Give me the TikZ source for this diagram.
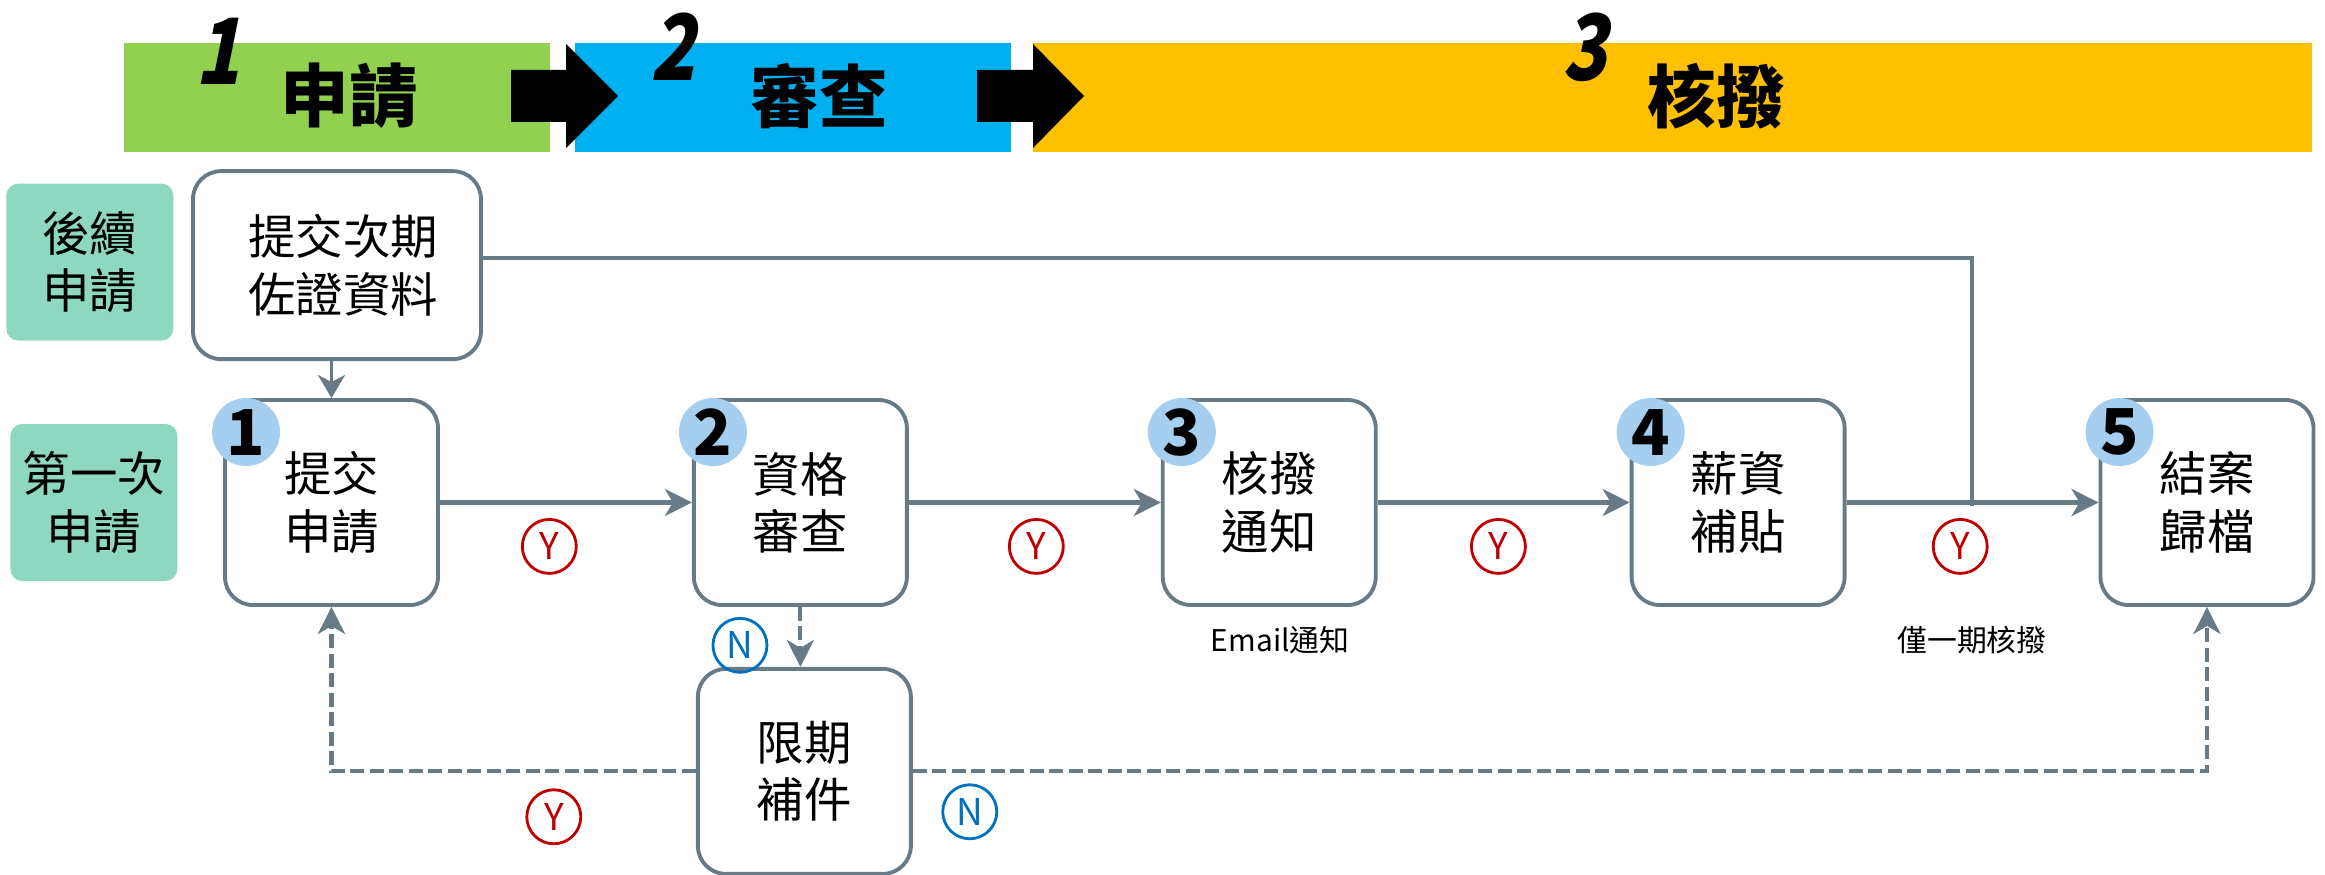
\documentclass[tikz,border=0pt]{standalone}
\usepackage{fontspec}
\setmainfont{Noto Sans CJK TC}
\newfontfamily\numfont[FakeSlant=0.2,FakeStretch=0.8]{Noto Sans CJK TC}
\usetikzlibrary{positioning,arrows.meta}
\definecolor{slate}{HTML}{687A86}
\definecolor{hgreen}{HTML}{92D050}
\definecolor{hblue}{HTML}{00B0F0}
\definecolor{horange}{HTML}{FFC000}
\definecolor{stagecol}{HTML}{8ED8C2}
\definecolor{numcol}{HTML}{A6CEEE}
\definecolor{yred}{HTML}{C00000}
\definecolor{nblue}{HTML}{0070C0}

\begin{document}
\begin{tikzpicture}[
    ->/.style={draw=slate, line width=1.3pt,
               arrows={-Stealth[length=0.27cm, width=0.27cm, inset=0.08cm]}},
    every node/.style={inner sep=1pt},
    proc/.style={draw=slate, line width=1.1pt, rounded corners=0.28cm,
                 fill=white, align=center,
                 minimum width=2.13cm, minimum height=2.05cm,
                 font=\fontsize{13.5}{16.3}\selectfont
    },
    stage/.style={fill=stagecol, rounded corners=0.12cm, align=center,
                  minimum width=1.67cm, minimum height=1.57cm,
                  font=\fontsize{13.5}{16.3}\selectfont
    },
    bar/.style={inner sep=0, minimum height=1.09cm},
    htext/.style={font=\fontsize{19.5}{19.5}\selectfont\bfseries},
    hnum/.style={font=\fontsize{26}{26}\selectfont\numfont\bfseries},
    num/.style={circle, fill=numcol, inner sep=0, minimum size=0.68cm,
                font=\fontsize{18}{18}\selectfont\bfseries},
    yes/.style={circle, solid, draw=yred, text=yred, line width=0.8pt, inner sep=0,
                minimum size=0.54cm, font=\fontsize{10.5}{10.5}\selectfont},
    no/.style={yes, draw=nblue, text=nblue},
    dflow/.style={->, line width=1.2pt, dash pattern=on 0.14cm off 0.055cm},
    link/.style={draw=slate, line width=1pt},
    note/.style={font=\fontsize{8.5}{8.5}\selectfont}
]
    \useasboundingbox (0,0) rectangle (23.25,8.74);

    % stages on top
    \node (apply) [bar, fill=hgreen, minimum width=4.26cm] at (3.37,7.765) {};
    \node (review) [bar, fill=hblue, minimum width=4.36cm] at (7.93,7.765) {};
    \node (grant) [bar, fill=horange, minimum width=12.79cm] at (16.725,7.765) {};
    \fill (5.11,7.52) -- (5.66,7.52) -- (5.66,7.26) -- (6.18,7.78) -- (5.66,8.30) -- (5.66,8.04) -- (5.11,8.04) -- cycle;
    \fill (9.77,7.52) -- (10.33,7.52) -- (10.33,7.26) -- (10.84,7.78) -- (10.33,8.30) -- (10.33,8.04) -- (9.77,8.04) -- cycle;
    \node (k1) [hnum] at (2.18,8.23) {1};
    \node (applyt) [htext] at (3.49,7.78) {申請};
    \node (k2) [hnum] at (6.73,8.27) {2};
    \node (reviewt) [htext] at (8.19,7.78) {審查};
    \node (k3) [hnum] at (15.85,8.27) {3};
    \node (grantt) [htext] at (17.16,7.78) {核撥};

    % boxes
    \node (b1) [proc] at (3.315,3.715) {提交\\申請};
    \node (b2) [proc, right=2.52cm of b1] {資格\\審查};
    \node (b3) [proc, right=2.52cm of b2] {核撥\\通知};
    \node (b4) [proc, right=2.52cm of b3] {薪資\\補貼};
    \node (b5) [proc, right=2.52cm of b4] {結案\\歸檔};
    \node (fix) [proc, below=0.6cm of b2, xshift=0.04cm] {限期\\補件};
    \node (sub) [proc, above=0.37cm of b1, xshift=0.055cm,
                 minimum width=2.88cm, minimum height=1.88cm] {\hspace{0.12cm}提交次期\\\hspace{0.12cm}佐證資料};
    \node (first) [stage, left=0.45cm of b1] {第一次\\申請};
    \node (later) [stage, left=0.17cm of sub, yshift=0.03cm] {後續\\申請};

    \node (n1) [num] at ([shift={(0.23,-0.34)}]b1.north west) {1};
    \node (n2) [num] at ([shift={(0.21,-0.34)}]b2.north west) {2};
    \node (n3) [num] at ([shift={(0.21,-0.34)}]b3.north west) {3};
    \node (n4) [num] at ([shift={(0.21,-0.34)}]b4.north west) {4};
    \node (n5) [num] at ([shift={(0.21,-0.34)}]b5.north west) {5};

    \coordinate (join) at (19.72,3.68);
    \node (mail) [note, below=0.15cm of b3, xshift=0.11cm] {Email通知};
    \node (once) [note, below=1.16cm of join] {僅一期核撥};

    % flow
    \draw[->] (b1) -- node[yes, pos=0.434, below=0.155cm] {Y} (b2);
    \draw[->] (b2) -- node[yes, pos=0.506, below=0.155cm] {Y} (b3);
    \draw[->] (b3) -- node[yes, pos=0.479, below=0.155cm] {Y} (b4);
    \draw[->] (b4) -- node[yes, pos=0.451, below=0.155cm] {Y} (b5);
    \draw[dflow] (b2.south) -- node[no, pos=0.64, left=0.32cm] {N} (b2.south |- fix.north);
    \draw[dflow] (fix) -| node[yes, pos=0.195, below=0.17cm] {Y} (b1);
    \draw[dflow] (fix) -| node[no, pos=0.022, below=0.12cm] {N} (b5);
    \draw[link, -{Stealth[length=0.23cm, width=0.27cm, inset=0.07cm]}] (sub.south -| b1.north) -- (b1.north);
    \draw[link] ([yshift=0.07cm]sub.east) -| (join);

\end{tikzpicture}
\end{document}
